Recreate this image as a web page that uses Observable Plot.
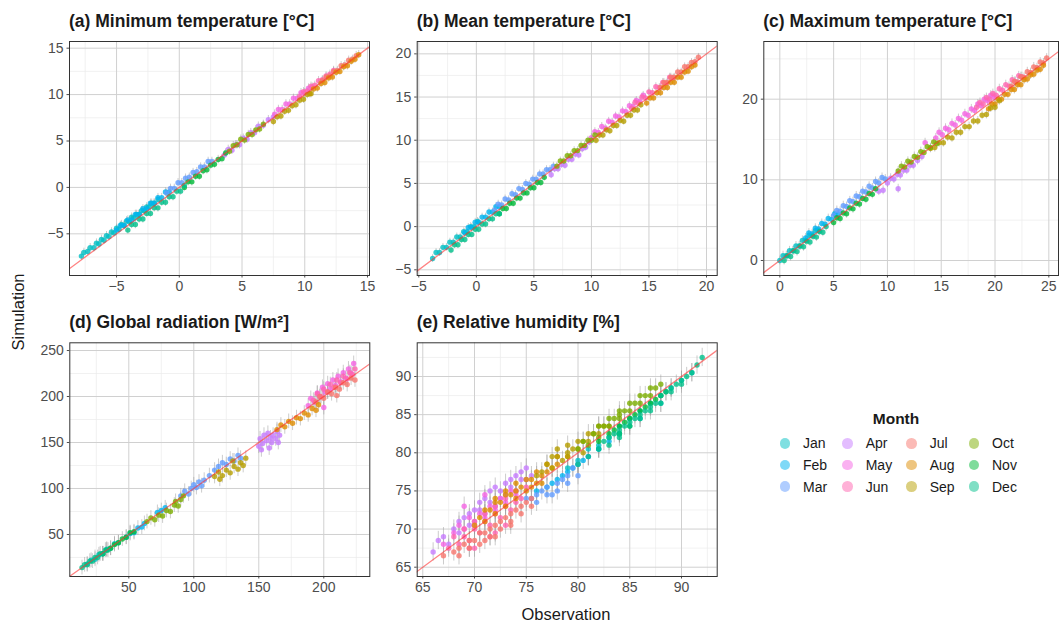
<!DOCTYPE html>
<html><head><meta charset="utf-8">
<script src="https://cdn.jsdelivr.net/npm/d3@7"></script>
<script src="https://cdn.jsdelivr.net/npm/@observablehq/plot@0.6"></script>
<style>
body{margin:0;background:#fff;}
#wrap{position:relative;width:1059px;height:623px;font-family:"Liberation Sans",Arial,sans-serif;overflow:hidden;}
.ptitle{position:absolute;font-weight:bold;font-size:17.5px;line-height:20px;color:#1a1a1a;white-space:nowrap;}
.plot{position:absolute;}
</style></head>
<body><div id="wrap"></div>
<script>
const months = ["Jan","Feb","Mar","Apr","May","Jun","Jul","Aug","Sep","Oct","Nov","Dec"];
const monthColors = ["#00BFC4","#00B4F0","#619CFF","#C77CFF","#F564E3","#FF64B0","#F8766D","#DE8C00","#B79F00","#7CAE00","#00BA38","#00C08B"];

// (a) Minimum temperature: [obs, sim, obs, sim, ...] per month Jan..Dec
const tmin = [
 [-7.8,-7.4,-7.6,-7.0,-7.3,-6.9,-7.1,-6.5,-6.8,-6.5,-6.6,-6.0,-6.4,-6.1,-6.2,-5.6,-6.0,-5.7,-5.8,-5.2,-5.6,-5.3,-5.4,-4.8,-5.2,-4.9,-5.0,-4.4,-4.8,-4.5,-4.6,-4.0,-4.4,-4.1,-4.2,-3.6,-4.0,-3.7,-3.8,-3.2,-3.6,-3.3,-3.4,-2.9,-3.2,-2.9,-3.0,-2.5,-2.8,-2.5,-2.6,-2.1,-2.4,-2.1,-2.2,-1.7,-2.0,-1.7,-1.7,-1.3],
 [-5.0,-4.6,-4.7,-4.1,-4.4,-4.1,-4.1,-3.5,-3.8,-3.5,-3.5,-2.9,-3.2,-2.9,-2.9,-2.3,-2.6,-2.3,-2.3,-1.7,-2.0,-1.7,-1.7,-1.1,-1.4,-1.1,-1.1,-0.5,-0.8,-0.5],
 [-1.0,-0.6,-0.7,-0.1,-0.4,-0.1,-0.1,0.5,0.2,0.5,0.5,1.0,0.8,1.1,1.1,1.6,1.4,1.7,1.7,2.2,2.0,2.2,2.3,2.8,2.6,2.8],
 [3.6,3.5,3.9,4.1,4.2,4.0,4.5,4.6,4.8,4.6,5.1,5.3,5.4,5.2,5.7,5.9,6.0,5.9,6.3,6.6,6.7,6.7,7.1,7.3,7.5,7.6],
 [7.6,7.9,7.9,8.4,8.2,8.4,8.5,9.0,8.8,9.0,9.1,9.6,9.4,9.6,9.7,10.2,10.0,10.2,10.3,10.7,10.6,10.8],
 [9.6,9.8,9.9,10.3,10.2,10.4,10.5,10.9,10.8,11.0,11.1,11.5,11.4,11.6,11.7,12.0,12.0,12.2,12.3,12.6],
 [11.4,11.5,11.7,11.9,12.0,12.0,12.3,12.5,12.6,12.6,12.9,13.1,13.2,13.2,13.5,13.7,13.8,13.8,14.1,14.2],
 [10.4,10.1,10.7,10.6,11.0,10.7,11.3,11.2,11.6,11.3,11.9,11.8,12.2,11.9,12.5,12.4,12.8,12.5,13.1,13.0,13.4,13.1,13.7,13.6,14.0,13.8,14.3,14.3],
 [7.5,7.1,7.8,7.6,8.1,7.7,8.4,8.2,8.7,8.3,9.0,8.8,9.3,8.9,9.6,9.4,9.9,9.5,10.2,10.0,10.5,10.1],
 [4.0,3.9,4.3,4.5,4.6,4.6,4.9,5.2,5.2,5.1,5.5,5.7,5.8,5.7,6.1,6.2,6.4,6.3,6.7,6.8],
 [0.4,0.0,0.7,0.6,1.0,0.6,1.3,1.2,1.6,1.2,1.9,1.8,2.2,1.9,2.5,2.4,2.8,2.5,3.1,3.0,3.4,3.1,3.7,3.7],
 [-4.1,-4.6,-3.8,-4.0,-3.5,-4.0,-3.2,-3.4,-2.9,-3.4,-2.6,-2.8,-2.3,-2.8,-2.0,-2.2,-1.7,-2.2,-1.4,-1.6,-1.1,-1.6,-0.8,-1.0,-0.5,-1.0,-0.2,-0.4,0.1,-0.4,0.4,0.2]
];
// (b) Mean temperature
const tmean = [
 [-3.8,-3.7,-3.5,-3.0,-3.2,-3.0,-2.9,-2.4,-2.6,-2.4,-2.3,-1.8,-2.0,-1.8,-1.7,-1.2,-1.4,-1.2,-1.1,-0.6,-0.8,-0.6,-0.5,0.0,-0.2,0.0,0.1,0.6],
 [-1.0,-0.7,-0.7,-0.1,-0.4,-0.1,-0.1,0.5,0.2,0.5,0.5,1.1,0.8,1.1,1.1,1.7,1.4,1.7,1.7,2.3,2.0,2.3],
 [1.6,1.9,1.9,2.6,2.2,2.5,2.5,3.2,2.8,3.1,3.1,3.8,3.4,3.7,3.7,4.4,4.0,4.3,4.3,5.0,4.6,4.9,4.9,5.5,5.2,5.5,5.5,6.1,5.8,6.1,6.1,6.6,6.4,6.6,6.7,7.0],
 [6.5,6.0,6.8,6.7,7.1,6.7,7.4,7.2,7.7,7.1,8.0,7.8,8.3,7.8,8.6,8.4,8.9,8.3,9.2,9.0,9.5,9.2,9.8,9.8],
 [10.0,10.3,10.3,11.0,10.6,10.9,10.9,11.6,11.2,11.4,11.5,12.2,11.8,12.1,12.1,12.8,12.4,12.7,12.7,13.4,13.0,13.3,13.3,14.0,13.6,13.9,13.9,14.6,14.2,14.5,14.5,15.2],
 [13.5,13.7,13.8,14.4,14.1,14.3,14.4,15.0,14.7,14.9,15.0,15.6,15.3,15.5,15.6,16.2,15.9,16.1,16.2,16.7,16.5,16.6,16.8,17.3,17.1,17.2],
 [16.0,16.1,16.3,16.7,16.6,16.7,16.9,17.3,17.2,17.3,17.5,17.9,17.8,17.9,18.1,18.5,18.4,18.5,18.7,19.0,19.0,19.1,19.3,19.6],
 [14.8,14.3,15.1,14.9,15.4,14.9,15.7,15.5,16.0,15.5,16.3,16.1,16.6,16.1,16.9,16.7,17.2,16.7,17.5,17.3,17.8,17.3,18.1,17.9,18.4,18.0,18.7,18.5,19.0,18.7],
 [10.4,10.0,10.7,10.6,11.0,10.6,11.3,11.2,11.6,11.1,11.9,11.7,12.2,11.7,12.5,12.3,12.8,12.2,13.1,12.9,13.4,12.9,13.7,13.5,14.0,13.5,14.3,14.1],
 [7.0,7.0,7.3,7.6,7.6,7.6,7.9,8.2,8.2,8.2,8.5,8.8,8.8,8.8,9.1,9.4,9.4,9.4,9.7,10.0,10.0,10.0,10.3,10.6],
 [2.0,1.5,2.3,2.1,2.6,2.1,2.9,2.7,3.2,2.7,3.5,3.3,3.8,3.3,4.1,3.9,4.4,3.9,4.7,4.5,5.0,4.5,5.3,5.1,5.6,5.1,5.9,5.7],
 [-2.2,-2.7,-1.9,-2.1,-1.6,-2.1,-1.3,-1.5,-1.0,-1.5,-0.7,-0.9,-0.4,-0.9,-0.1,-0.3,0.2,-0.3,0.5,0.3,0.8,0.3,1.1,0.9,1.4,0.9,1.7,1.5,2.0,1.5]
];
// (c) Maximum temperature
const tmax = [
 [0.0,0.0,0.3,0.6,0.6,0.6,0.9,1.2,1.2,1.2,1.5,1.8,1.8,1.8,2.1,2.5,2.4,2.5,2.7,3.1,3.0,3.1,3.3,3.7,3.6,3.7],
 [2.4,2.8,2.7,3.4,3.0,3.3,3.3,4.0,3.6,3.9,3.9,4.6,4.2,4.5,4.5,5.2,4.8,5.1,5.1,5.8,5.4,5.7],
 [5.0,5.6,5.3,6.2,5.6,6.1,5.9,6.8,6.2,6.7,6.5,7.4,6.8,7.3,7.1,8.0,7.4,7.9,7.7,8.6,8.0,8.5,8.3,9.2,8.6,9.0,8.9,9.8,9.2,9.6,9.5,10.3,9.8,10.1],
 [9.2,8.6,9.6,8.7,10.0,9.6,10.3,10.2,10.6,10.1,10.9,10.7,11.2,10.6,11.5,11.2,11.8,11.2,12.1,11.8,12.4,11.8,12.8,12.4,13.2,12.9,11.0,8.9],
 [14.5,15.2,14.8,15.9,15.1,15.6,15.4,16.4,15.7,16.2,16.0,17.0,16.3,16.8,16.6,17.6,16.9,17.4,17.2,18.2,17.5,18.0,17.8,18.8,18.1,18.6,18.4,19.4,18.7,19.2,19.0,20.0,19.3,19.8,19.6,20.5,19.9,20.3,13.5,14.6],
 [18.3,19.0,18.6,19.6,18.9,19.4,19.2,20.2,19.5,20.0,19.8,20.7,20.1,20.5,20.4,21.3,20.7,21.1,21.0,21.8,21.3,21.6,21.6,22.4,21.9,22.2,22.2,22.9,22.5,22.8],
 [21.5,21.6,21.8,22.2,22.1,22.1,22.4,22.8,22.7,22.7,23.0,23.4,23.3,23.3,23.6,24.0,23.9,23.9,24.2,24.6,24.5,24.5,24.8,25.1],
 [19.4,18.8,19.7,19.4,20.0,19.4,20.3,20.0,20.6,20.0,20.9,20.6,21.2,20.6,21.5,21.2,21.8,21.2,22.1,21.8,22.4,21.8,22.7,22.4,23.0,22.5,23.3,23.0,23.6,23.1,23.9,23.6,24.2,23.7,24.5,24.2],
 [14.0,13.9,14.4,14.0,14.8,14.6,15.2,14.6,15.6,15.3,16.0,15.2,16.4,15.9,16.8,15.9,17.2,16.6,17.6,16.6,18.0,17.3,18.4,17.3,18.8,18.0,19.2,18.1,19.6,18.9,20.0,19.0,20.4,19.8],
 [11.0,11.1,11.3,11.7,11.6,11.6,11.9,12.3,12.2,12.2,12.5,12.9,12.8,12.8,13.1,13.5,13.4,13.4,13.7,14.1,14.0,14.0,14.3,14.7,14.6,14.5],
 [5.0,4.7,5.3,5.3,5.6,5.2,5.9,5.9,6.2,5.8,6.5,6.5,6.8,6.4,7.1,7.1,7.4,7.0,7.7,7.7,8.0,7.6,8.3,8.3,8.6,8.2,8.9,8.9],
 [0.4,0.0,0.7,0.6,1.0,0.5,1.3,1.2,1.6,1.1,1.9,1.8,2.2,1.7,2.5,2.4,2.8,2.3,3.1,3.0,3.4,2.9,3.7,3.6,4.0,3.5,4.3,4.2]
];
// (d) Global radiation
const rad = [
 [18,18,21,22,24,23,27,28,30,29,33,34,36,35,39,40,42,41],
 [48,47,51,51,54,52,57,57,60,58,62,62,72,74,75,76,78,79],
 [90,92,93,97,96,94,98,100,100,104,102,101,104,107,106,103,108,109,112,114,116,120,119,124,122,128,125,126,128,132,131,130,134,136,136,133],
 [150,146,151,154,153,149,154,158,156,152,157,160,159,155,160,150,161,158,163,154,164,162,166,158,152,142,158,144,165,150],
 [188,190,190,198,193,194,195,204,197,200,199,210,201,205,203,214,205,208,207,218,209,212,211,222,213,216,215,226,217,220,219,230,221,225,223,236,200,188],
 [192,196,195,203,198,200,200,208,203,205,205,213,208,210,210,218,213,215,215,222,218,219,220,226,222,224,224,230],
 [194,194,197,200,200,198,203,205,206,203,209,210,212,208,215,215,218,213,221,220,224,218,210,201],
 [164,164,167,169,170,167,173,173,176,171,179,177,182,176,185,182,188,180,191,187,194,185,196,191],
 [116,113,119,118,122,114,125,120,128,117,131,124,134,121,136,128,138,125,140,133,120,110,130,130],
 [64,64,67,68,70,66,73,71,76,70,79,76,82,75,85,82,88,81,90,88,86,86,92,92],
 [30,29,33,33,36,35,39,39,42,41,45,45,48,47,51,52,54,53],
 [14,14,16,17,18,17,20,21,22,21,24,25,26,25,28,29,30,29,32,33,34,33]
];
// (e) Relative humidity
const rh = [
 [79,78,80,79,81,80.5,82,81,83,82,84,83.5,85,84.5,86,85.5,87,86.5,88,87.5,89,88.5,90,89.5,91,90.5,82,80.5,84,82.5,86,84.5,88,86.5],
 [76,75,77,75.5,77.5,76,78,76.5,78.5,77,79,77.5,79.5,78,80,78.5,80.5,79,81,79.5,82,80.5,83,81.5],
 [75,74,75.5,74,76,74.5,76.5,75,77,75.5,77.5,74.5,78,76,78.5,76.5,79,77,79.5,78,80,78.5,81,79.5,76,73.5,77,74.5,78,75,79,76,80,77],
 [66,67,66.5,68.5,67,69,67.5,68,68,70,68.5,69.5,69,71.5,69.5,70.5,70,72.5,70,71,70.5,73.5,71,72,71,74,71.5,75,72,73,72,75.5,72.5,74,73,76,73,74.5,73.5,75.5,74,77,74,75,74.5,76.5,75,76.5,75.5,77,68.5,71,69.5,72,70.5,72.5,71.5,73.5,72.5,75,73.5,76.5,74.5,77.5,75,78],
 [67,68,68,69.5,68.5,70.5,69,70,69.5,71.5,70,70.5,70.5,72,71,71.5,71.5,73,72,72.5,72.5,74,73,73.5,73.5,75,74,74.5,69,73,71,74.5],
 [67.5,67.5,68.5,68,69,69,69.5,68.5,70,70,70.5,69.5,71,71,71.5,70.5,72,72,72.5,71.5,73,73,73.5,72.5,74,73.5,74.5,74,70,67.5,72,69.5,68,69,69,70,70,71,71,72,72,73,73,74,74,75,75,75.5,69.5,67.5,71.5,69,73,70.5],
 [67,66.5,68,67,68.5,67.5,69,68,69.5,68.5,70,68.5,70.5,69.5,71,69.5,71.5,70,72,70.5,72.5,71,73,71.5,73.5,72,74,72.5,74.5,73,75,73.5,75.5,74,71,68.5,72,69,73.5,71,68.5,66.5,69.5,67.5,70.5,68,71.5,69,72.5,70,73.5,70.5,74.5,72,75.5,73],
 [70,70.5,70.5,71.5,71,71,71.5,72.5,72,72,72.5,73.5,73,73,73.5,74.5,74,74,74.5,75.5,75,75,75.5,76.5,76,76,76.5,77,77,77.5,77.5,78,78,78.5,72,74,73,75,74,76,71,72.5,72,73.5,73,74.5,74,75,75,76.5,76,77.5,77,78.5,78,79.5,75.5,75.5,76.5,76,79,79.5],
 [76,77,76.5,77.5,77,78.5,77.5,78,78,79.5,78.5,79,79,80,79.5,80.5,80,80.5,80.5,81.5,81,81.5,81.5,82.5,82,82.5,82.5,83.5,83,83.5,77.5,79.5,79,81,78,80.5,79,79.5,80,81.5,81,82.5,82,83.5,80.5,80],
 [80,80.5,80.5,81.5,81,81,81.5,82.5,82,82,82.5,83.5,83,83.5,83.5,84.5,84,84.5,84.5,85.5,85,85.5,85.5,86.5,86,86.5,86.5,87.5,87,87.5,87.5,88.5,84,85.5,82,83.5,83,84.5,84,85,85,86.5,86,87.5,87,88.5,88,89],
 [82,81.5,83,82.5,83.5,83,84,83.5,84.5,84,85,84.5,85.5,85,86,85.5,86.5,86,87,86.5,87.5,87,88,87.5,88.5,88,84,82.5,85,83.5],
 [80,78.5,81,79.5,82,80.5,82.5,81.5,83,82,83.5,82.5,84,83,84.5,83.5,85,84,85.5,84.5,86,85,86.5,85.5,87,86,87.5,86.5,88,87.5,88.5,88,89,88.5,89.5,89,90,89.5,90.5,90,91,90.5,91.5,91.5,92,92.5,83,81,84,82,84,82.5,85,83.5,86,84.5,87,85.5,88,86.5,89,88,90,89]
];
// typical error-bar half widths per panel (a..e)
const errHalf = [0.45, 0.45, 0.55, 8, 1.2];

const titles = ["(a) Minimum temperature [°C]","(b) Mean temperature [°C]","(c) Maximum temperature [°C]","(d) Global radiation [W/m²]","(e) Relative humidity [%]"];
const xTicks = [[-5,0,5,10,15],[-5,0,5,10,15,20],[0,5,10,15,20,25],[50,100,150,200],[65,70,75,80,85,90]];
const yTicks = [[-5,0,5,10,15],[-5,0,5,10,15,20],[0,10,20],[50,100,150,200,250],[65,70,75,80,85,90]];
const xLims = [[-8.75,15.16],[-5.14,20.93],[-1.49,25.9],[4.6,235.4],[64.46,93.45]];
const yLims = [[-9.49,15.72],[-5.66,21.43],[-1.86,27.15],[4.3,258.4],[63.78,94.42]];
const datasets = [tmin, tmean, tmax, rad, rh];

// layout (pixels)
const layout = [
 {left:0,   top:30,  w:380, ml:69,   mr:11},
 {left:370, top:30,  w:355, ml:46.7, mr:8.3},
 {left:715, top:30,  w:344, ml:48.3, mr:1},
 {left:0,   top:330, w:380, ml:69.3, mr:10.7},
 {left:370, top:330, w:355, ml:46.7, mr:8.3}
];
const panelTop = [41,41,41,342.3,342.3];
const panelBottom = [275,275,275,576,576];
const H = 270;
const font = '"Liberation Sans", Arial, sans-serif';

const wrap = document.getElementById("wrap");

function minors(ticks, lim) {
  const step = ticks[1] - ticks[0];
  const out = [];
  for (let v = ticks[0] - step / 2; v <= lim[1]; v += step) if (v >= lim[0]) out.push(v);
  return out;
}

datasets.forEach((ds, i) => {
  const pts = ds.flatMap((arr, mi) => {
    const r = [];
    for (let k = 0; k < arr.length; k += 2) r.push({m: months[mi], x: arr[k], y: arr[k + 1]});
    return r;
  });
  const L = layout[i];
  const e = errHalf[i];
  const lo = Math.min(xLims[i][0], yLims[i][0]), hi = Math.max(xLims[i][1], yLims[i][1]);
  const p = Plot.plot({
    width: L.w, height: H,
    marginLeft: L.ml, marginRight: L.mr,
    marginTop: panelTop[i] - L.top, marginBottom: H - (panelBottom[i] - L.top),
    x: {domain: xLims[i], ticks: xTicks[i], tickSize: 2.5, tickPadding: 3, label: null},
    y: {domain: yLims[i], ticks: yTicks[i], tickSize: 2.5, tickPadding: 3.5, label: null},
    color: {domain: months, range: monthColors},
    style: {fontFamily: font, fontSize: "14px", color: "#4d4d4d", background: "transparent", overflow: "visible"},
    marks: [
      Plot.ruleX(minors(xTicks[i], xLims[i]), {stroke: "#ebebeb", strokeWidth: 0.7}),
      Plot.ruleY(minors(yTicks[i], yLims[i]), {stroke: "#ebebeb", strokeWidth: 0.7}),
      Plot.ruleX(xTicks[i], {stroke: "#d0d0d0", strokeWidth: 1}),
      Plot.ruleY(yTicks[i], {stroke: "#d0d0d0", strokeWidth: 1}),
      Plot.ruleX(pts, {x: "x", y1: d => d.y - e, y2: d => d.y + e, stroke: "#9a9a9a", strokeOpacity: 0.5, strokeWidth: 1}),
      Plot.dot(pts, {x: "x", y: "y", fill: "m", r: 2.7, fillOpacity: 0.8}),
      Plot.line([lo, hi], {x: d => d, y: d => d, stroke: "#ff3030", strokeOpacity: 0.6, strokeWidth: 1.3, clip: true}),
      Plot.frame({stroke: "#333", strokeWidth: 1})
    ]
  });
  p.classList.add("plot");
  p.style.left = L.left + "px";
  p.style.top = L.top + "px";
  wrap.appendChild(p);
  const t = document.createElement("div");
  t.className = "ptitle";
  t.textContent = titles[i];
  t.style.left = (L.left + L.ml) + "px";
  t.style.top = (panelTop[i] - 30) + "px";
  wrap.appendChild(t);
});

// axis titles
const yt = document.createElement("div");
yt.textContent = "Simulation";
yt.style.cssText = "position:absolute;left:18px;top:312px;transform:translate(-50%,-50%) rotate(-90deg);font-size:16.5px;color:#1a1a1a;white-space:nowrap;";
wrap.appendChild(yt);
const xt = document.createElement("div");
xt.textContent = "Observation";
xt.style.cssText = "position:absolute;left:566px;top:614px;transform:translate(-50%,-50%);font-size:16.5px;color:#1a1a1a;white-space:nowrap;";
wrap.appendChild(xt);

// legend (4 columns x 3 rows, column-major)
const leg = document.createElement("div");
leg.style.cssText = "position:absolute;left:775px;top:408px;width:245px;";
const lt = document.createElement("div");
lt.textContent = "Month";
lt.style.cssText = "position:absolute;left:121px;top:11px;transform:translate(-50%,-50%);font-weight:bold;font-size:15.5px;color:#1a1a1a;";
leg.appendChild(lt);
const colX = [10, 72.7, 136.7, 199];
const rowY = [35.3, 57, 78.7];
months.forEach((m, k) => {
  const c = Math.floor(k / 3), r = k % 3;
  const dot = document.createElement("div");
  dot.style.cssText = `position:absolute;left:${colX[c]-5.3}px;top:${rowY[r]-5.3}px;width:10.6px;height:10.6px;border-radius:50%;background:${monthColors[k]};opacity:0.5;`;
  leg.appendChild(dot);
  const tx = document.createElement("div");
  tx.textContent = m;
  tx.style.cssText = `position:absolute;left:${colX[c]+18}px;top:${rowY[r]}px;transform:translateY(-50%);font-size:14px;color:#1a1a1a;`;
  leg.appendChild(tx);
});
wrap.appendChild(leg);
</script></body></html>
